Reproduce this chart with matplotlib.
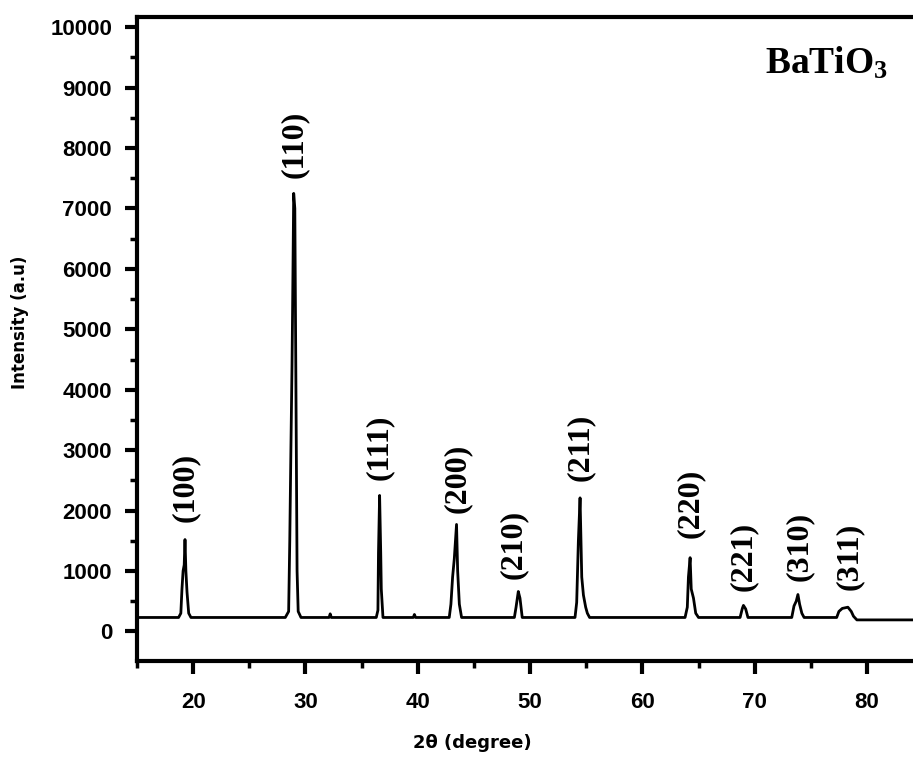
import matplotlib
matplotlib.use("Agg")
import matplotlib.pyplot as plt
from matplotlib.ticker import MultipleLocator

plt.rcParams['mathtext.fontset'] = 'custom'
plt.rcParams['mathtext.rm'] = 'Liberation Serif'
plt.rcParams['mathtext.bf'] = 'Liberation Serif:bold'

# traced XRD pattern (2theta, intensity)
two_theta = [15.0, 18.7, 18.9, 19.0, 19.1, 19.2, 19.27, 19.35, 19.45, 19.6, 19.8,
             28.2, 28.5, 28.6, 28.7, 28.8, 28.85, 28.95, 29.05, 29.15, 29.25, 29.35, 29.6,
             32.1, 32.2, 32.3,
             36.3, 36.45, 36.5, 36.6, 36.7, 36.75, 36.9,
             39.6, 39.7, 39.8,
             42.8, 42.95, 43.1, 43.25, 43.45, 43.55, 43.7, 43.9,
             48.6, 48.75, 48.95, 49.1, 49.3,
             54.0, 54.15, 54.3, 54.45, 54.6, 54.75, 54.95, 55.1, 55.3,
             63.8, 64.0, 64.1, 64.25, 64.35, 64.55, 64.75, 65.0,
             68.7, 68.9, 69.0, 69.2, 69.4,
             73.3, 73.5, 73.7, 73.85, 74.0, 74.2, 74.4,
             77.3, 77.5, 77.8, 78.3, 78.6, 78.8, 79.1, 85.0]
intensity = [230, 230, 300, 700, 1000, 1100, 1520, 1000, 650, 300, 230,
             230, 330, 1500, 3000, 4400, 5300, 7250, 7000, 4000, 1000, 330, 230,
             230, 290, 230,
             230, 350, 1300, 2250, 1300, 700, 230,
             230, 280, 230,
             230, 450, 900, 1200, 1770, 1000, 450, 230,
             230, 400, 660, 550, 230,
             230, 480, 1500, 2210, 900, 600, 400, 300, 230,
             230, 400, 900, 1220, 700, 550, 300, 230,
             230, 380, 430, 370, 230,
             230, 420, 500, 610, 450, 300, 230,
             230, 330, 380, 400, 330, 250, 190, 190]

# peak labels
hkl = ['(100)', '(110)', '(111)', '(200)', '(210)', '(211)', '(220)', '(221)', '(310)', '(311)']
label_x = [19.27, 28.98, 36.62, 43.49, 48.47, 54.44, 64.23, 68.95, 74.02, 78.47]
label_y = [2375, 8060, 3053, 2540, 1433, 3053, 2127, 1234, 1400, 1234]

fig = plt.figure(figsize=(9.13, 7.58), dpi=100)
ax = fig.add_axes([0.1501, 0.128, 0.861, 0.8496])

ax.plot(two_theta, intensity, color='black', lw=2)

for lab, x, y in zip(hkl, label_x, label_y):
    ax.text(x, y, lab, rotation=90, ha='center', va='center',
            fontfamily='Liberation Serif', fontweight='bold', fontsize=23)

ax.text(70.9, 9235, r'$\mathbf{BaTiO_3}$', ha='left', va='baseline', fontsize=27)

ax.set_xlim(15, 85)
ax.set_ylim(-490, 10170)
ax.xaxis.set_major_locator(MultipleLocator(10))
ax.xaxis.set_minor_locator(MultipleLocator(5))
ax.yaxis.set_major_locator(MultipleLocator(1000))
ax.yaxis.set_minor_locator(MultipleLocator(500))
ax.set_xticks(range(20, 90, 10))

for s in ax.spines.values():
    s.set_linewidth(3)

ax.tick_params(which='major', direction='out', length=9, width=3, top=False, right=False)
ax.tick_params(which='minor', direction='out', length=5, width=2.5, top=False, right=False)
ax.tick_params(axis='x', which='major', pad=13)
ax.tick_params(axis='y', which='major', pad=9)
for t in ax.get_xticklabels() + ax.get_yticklabels():
    t.set_fontfamily('Liberation Sans')
    t.set_fontweight('bold')
    t.set_fontsize(16)

ax.set_xlabel('2θ (degree)', fontfamily='DejaVu Sans', fontweight='bold', fontsize=13)
ax.set_ylabel('Intensity (a.u)', fontfamily='DejaVu Sans', fontweight='bold', fontsize=12)
ax.xaxis.set_label_coords(0.4265, -0.127)
ax.yaxis.set_label_coords(-0.1485, 0.526)
ax.xaxis.label.set_va('center')
ax.yaxis.label.set_va('center')

fig.savefig('out.png', dpi=100)
